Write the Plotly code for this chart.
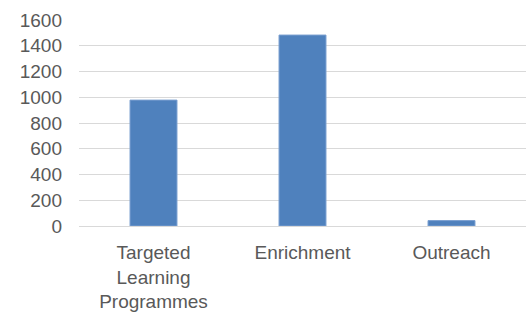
import plotly.graph_objects as go

categories = ["Targeted<br>Learning<br>Programmes", "Enrichment", "Outreach"]
values = [978, 1483, 42]
y_ticks = [0, 200, 400, 600, 800, 1000, 1200, 1400, 1600]

fig = go.Figure(go.Bar(
    x=categories, y=values,
    marker=dict(color="#4f81bd", line=dict(color="#7a9fd0", width=1)),
))

fig.update_layout(
    width=528, height=322,
    margin=dict(l=79, r=2, t=20, b=96),
    paper_bgcolor="white", plot_bgcolor="white",
    bargap=0.685,
    showlegend=False,
    font=dict(family="Liberation Sans", size=19, color="#595959"),
)
fig.update_yaxes(
    range=[0, 1600], tickvals=y_ticks, ticktext=[str(v) for v in y_ticks],
    showgrid=True, gridcolor="#d9d9d9", gridwidth=1, zeroline=False,
    ticks="", ticklabelstandoff=16, showline=False,
)
fig.update_xaxes(
    showline=True, linecolor="#d9d9d9", linewidth=1, ticks="",
    ticklabelstandoff=9, tickangle=0,
)
fig.write_html("out.html")
